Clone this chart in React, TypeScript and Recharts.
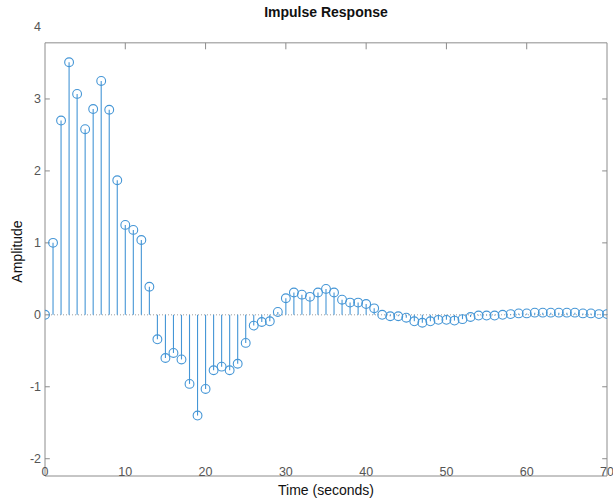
import { ScatterChart, Scatter, XAxis, YAxis, ReferenceLine, ErrorBar } from 'recharts'

const times = [
  0, 1, 2, 3, 4, 5, 6, 7, 8, 9, 10, 11, 12, 13, 14, 15, 16, 17, 18, 19, 20,
  21, 22, 23, 24, 25, 26, 27, 28, 29, 30, 31, 32, 33, 34, 35, 36, 37, 38, 39, 40,
  41, 42, 43, 44, 45, 46, 47, 48, 49, 50, 51, 52, 53, 54, 55, 56, 57, 58, 59, 60,
  61, 62, 63, 64, 65, 66, 67, 68, 69, 70,
]

const amplitudes = [
  0, 1.0, 2.7, 3.51, 3.07, 2.58, 2.86, 3.25, 2.85, 1.87, 1.25, 1.18, 1.04,
  0.39, -0.34, -0.6, -0.53, -0.62, -0.96, -1.4, -1.03, -0.77, -0.72, -0.77, -0.68, -0.39, -0.15, -0.1, -0.09,
  0.04, 0.23, 0.31, 0.28, 0.25, 0.31, 0.36, 0.31, 0.21, 0.17, 0.17, 0.15, 0.09,
  0, -0.02, -0.02, -0.04, -0.09, -0.11, -0.09, -0.07, -0.07, -0.08, -0.06, -0.03, -0.01, -0.01, -0.01,
  0, 0.01, 0.02, 0.02, 0.03, 0.03, 0.03, 0.03, 0.03, 0.03, 0.02, 0.02, 0.01, 0.01,
]

const xTicks = [0, 10, 20, 30, 40, 50, 60, 70]
const yTicks = [-2, -1, 0, 1, 2, 3, 4]

const STEM = '#4596d6'
const FRAME = '#8c8c8c'
const FONT = '"Liberation Sans", Arial, Helvetica, sans-serif'
// top edge of the drawn axes box sits a bit under the "4" tick
const BOX_TOP = 3.78
const Y_MIN = -2.24

const data = times.map((t, i) => {
  const v = amplitudes[i]
  return { t, amp: v, stem: v >= 0 ? [v, 0] : [0, -v] }
})

const Marker = (props: any) => {
  const { cx, cy } = props
  return <circle cx={cx} cy={cy} r={4.4} fill="none" stroke={STEM} strokeWidth={1.1} />
}

const XTick = ({ x, y, payload }: any) => (
  <text x={x} y={y} textAnchor="middle" fill="#555" fontSize={12.5} fontFamily={FONT}>
    {payload.value}
  </text>
)

export default function App() {
  return (
    <div style={{ position: 'absolute', left: 0, top: 0, width: 613, height: 500, background: '#fff' }}>
      <div
        style={{
          position: 'absolute',
          top: 4,
          left: 0,
          width: 652,
          textAlign: 'center',
          fontFamily: FONT,
          fontWeight: 'bold',
          fontSize: 14,
          lineHeight: '16px',
          color: '#111',
        }}
      >
        Impulse Response
      </div>
      <ScatterChart width={613} height={500} margin={{ top: 27, right: 6, bottom: 0, left: 0 }}>
        <XAxis
          type="number"
          dataKey="t"
          domain={[0, 70]}
          ticks={xTicks}
          interval={0}
          allowDataOverflow
          axisLine={{ stroke: FRAME }}
          tickLine={false}
          tickSize={0}
          tickMargin={0}
          height={24}
          tick={<XTick />}
          label={{ value: 'Time (seconds)', position: 'insideBottom', offset: 5, fill: '#111', fontSize: 14, fontFamily: FONT }}
        />
        <YAxis
          type="number"
          dataKey="amp"
          domain={[Y_MIN, 4]}
          ticks={yTicks}
          interval={0}
          allowDataOverflow
          width={45}
          axisLine={false}
          tickLine={false}
          tickSize={0}
          tickMargin={4}
          tick={{ fill: '#555', fontSize: 12.5, fontFamily: FONT }}
          label={{ value: 'Amplitude', angle: -90, position: 'center', dx: -5, fill: '#111', fontSize: 14, fontFamily: FONT }}
        />
        {/* axes box */}
        <ReferenceLine segment={[{ x: 0, y: BOX_TOP }, { x: 70, y: BOX_TOP }]} stroke={FRAME} />
        <ReferenceLine segment={[{ x: 0, y: BOX_TOP }, { x: 0, y: Y_MIN }]} stroke={FRAME} />
        <ReferenceLine segment={[{ x: 70, y: BOX_TOP }, { x: 70, y: Y_MIN }]} stroke={FRAME} />
        {xTicks.slice(1, -1).map((t) => (
          <ReferenceLine key={`xt${t}`} segment={[{ x: t, y: BOX_TOP }, { x: t, y: BOX_TOP - 0.09 }]} stroke={FRAME} />
        ))}
        {yTicks.filter((v) => v > Y_MIN && v < BOX_TOP).map((v) => (
          <ReferenceLine key={`yl${v}`} segment={[{ x: 0, y: v }, { x: 0.6, y: v }]} stroke={FRAME} />
        ))}
        {yTicks.filter((v) => v > Y_MIN && v < BOX_TOP).map((v) => (
          <ReferenceLine key={`yr${v}`} segment={[{ x: 69.4, y: v }, { x: 70, y: v }]} stroke={FRAME} />
        ))}
        {/* stem baseline */}
        <ReferenceLine
          segment={[{ x: 0, y: 0 }, { x: 70, y: 0 }]}
          stroke="#a0a0a0"
          strokeDasharray="1 2"
        />
        <Scatter data={data} shape={<Marker />} isAnimationActive={false}>
          <ErrorBar dataKey="stem" direction="y" width={0} stroke={STEM} strokeWidth={1.1} />
        </Scatter>
      </ScatterChart>
    </div>
  )
}
